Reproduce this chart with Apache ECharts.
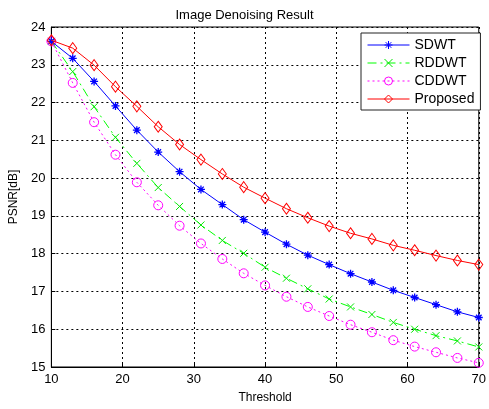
<!DOCTYPE html>
<html>
<head>
<meta charset="utf-8">
<script src="https://cdn.jsdelivr.net/npm/echarts@6/dist/echarts.min.js"></script>
<style>
  html, body { margin: 0; padding: 0; background: #fff; }
  #main { width: 489px; height: 409px; }
</style>
</head>
<body>
<div id="main"></div>
<script>
// 横轴: 阈值
var thresholds = [10, 13, 16, 19, 22, 25, 28, 31, 34, 37, 40, 43, 46, 49, 52, 55, 58, 61, 64, 67, 70];

// 各方法的 PSNR 值
var sdwt     = [23.62, 23.17, 22.56, 21.91, 21.27, 20.69, 20.17, 19.70, 19.30, 18.90, 18.57, 18.25, 17.96, 17.71, 17.47, 17.25, 17.03, 16.84, 16.65, 16.46, 16.31];
var rddwt    = [23.62, 22.82, 21.89, 21.08, 20.39, 19.75, 19.25, 18.76, 18.35, 18.01, 17.64, 17.35, 17.07, 16.80, 16.59, 16.39, 16.18, 16.00, 15.83, 15.69, 15.53];
var cddwt    = [23.62, 22.52, 21.48, 20.62, 19.89, 19.28, 18.74, 18.27, 17.86, 17.48, 17.16, 16.86, 16.59, 16.35, 16.12, 15.92, 15.71, 15.54, 15.39, 15.24, 15.11];
var proposed = [23.65, 23.44, 22.99, 22.42, 21.90, 21.36, 20.89, 20.49, 20.11, 19.76, 19.47, 19.19, 18.95, 18.73, 18.54, 18.39, 18.22, 18.09, 17.95, 17.82, 17.71];

var names = ['SDWT', 'RDDWT', 'CDDWT', 'Proposed'];

function pairs(ys) {
    return thresholds.map(function (x, i) { return [x, ys[i]]; });
}

// 自定义标记: 星号 和 叉号
var starSymbol  = 'path://M0,-10L0,10M-10,0L10,0M-7,-7L7,7M-7,7L7,-7';
var crossSymbol = 'path://M-10,-10L10,10M-10,10L10,-10';

var myChart = echarts.init(document.getElementById('main'));
var font = 'Liberation Sans, Arial, sans-serif';

var option = {
    animation: false,
    title: {
        text: 'Image Denoising Result',
        left: 'center',
        top: 4,
        textStyle: { fontFamily: font, fontSize: 13, fontWeight: 'normal', color: '#000' }
    },
    legend: {
        data: names,
        orient: 'vertical',
        left: 361,
        top: 33,
        itemWidth: 42,
        itemHeight: 10,
        itemGap: 4,
        padding: [5, 6, 4, 6],
        borderColor: '#222',
        borderWidth: 1,
        backgroundColor: '#fff',
        lineStyle: { width: 1 },
        itemStyle: { borderWidth: 1 },
        textStyle: { fontFamily: font, fontSize: 14, color: '#000' }
    },
    grid: {
        left: 47,
        right: 6,
        top: 27,
        bottom: 38,
        show: true,
        borderColor: '#000',
        borderWidth: 1
    },
    xAxis: {
        type: 'value',
        min: 10,
        max: 70,
        interval: 10,
        name: 'Threshold',
        nameLocation: 'middle',
        nameGap: 25,
        nameTextStyle: { fontFamily: font, fontSize: 12, color: '#000' },
        axisLine: { lineStyle: { color: '#000' } },
        axisTick: { inside: true, length: 4, lineStyle: { color: '#000' } },
        axisLabel: { fontFamily: font, fontSize: 13, color: '#000', margin: 6 },
        splitLine: { show: true, lineStyle: { color: '#000', type: [2, 3], width: 1 } }
    },
    yAxis: {
        type: 'value',
        min: 15,
        max: 24,
        interval: 1,
        name: 'PSNR[dB]',
        nameLocation: 'middle',
        nameGap: 30,
        nameTextStyle: { fontFamily: font, fontSize: 12, color: '#000' },
        axisLine: { show: true, lineStyle: { color: '#000' } },
        axisTick: { show: true, inside: true, length: 4, lineStyle: { color: '#000' } },
        axisLabel: { fontFamily: font, fontSize: 13, color: '#000', margin: 6 },
        splitLine: { show: true, lineStyle: { color: '#000', type: [2, 3], width: 1 } }
    },
    series: [
        {
            name: 'SDWT',
            type: 'line',
            data: pairs(sdwt),
            symbol: starSymbol,
            symbolSize: 8,
            lineStyle: { color: '#0000ff', width: 1 },
            itemStyle: { color: 'none', borderColor: '#0000ff', borderWidth: 1.3 },
            z: 3
        },
        {
            name: 'RDDWT',
            type: 'line',
            data: pairs(rddwt),
            symbol: crossSymbol,
            symbolSize: 7,
            lineStyle: { color: '#00ff00', width: 1, type: [9, 4, 2, 4] },
            itemStyle: { color: 'none', borderColor: '#00e600', borderWidth: 1 },
            z: 2
        },
        {
            name: 'CDDWT',
            type: 'line',
            data: pairs(cddwt),
            symbol: 'circle',
            symbolSize: 9,
            lineStyle: { color: '#ff00ff', width: 1, type: [2, 3] },
            itemStyle: { color: 'none', borderColor: '#ff00ff', borderWidth: 1 },
            z: 2
        },
        {
            name: 'Proposed',
            type: 'line',
            data: pairs(proposed),
            symbol: 'diamond',
            symbolSize: [8, 11],
            lineStyle: { color: '#ff0000', width: 1 },
            itemStyle: { color: 'none', borderColor: '#ff0000', borderWidth: 1 },
            z: 4
        }
    ]
};

myChart.setOption(option);
</script>
</body>
</html>
